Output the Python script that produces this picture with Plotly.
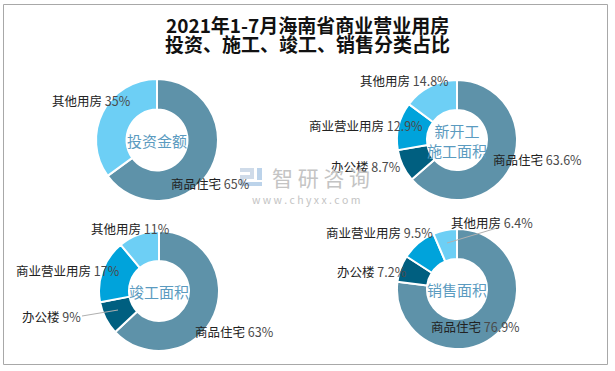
import plotly.graph_objects as go

W, H = 615, 371

# ---- data ----
title_line1 = "2021年1-7月海南省商业营业用房"
title_line2 = "投资、施工、竣工、销售分类占比"

invest_labels = ["商品住宅", "其他用房"]
invest_values = [65, 35]

new_labels = ["商品住宅", "办公楼", "商业营业用房", "其他用房"]
new_values = [63.6, 8.7, 12.9, 14.8]

done_labels = ["商品住宅", "办公楼", "商业营业用房", "其他用房"]
done_values = [63, 9, 17, 11]

sales_labels = ["商品住宅", "办公楼", "商业营业用房", "其他用房"]
sales_values = [76.9, 7.2, 9.5, 6.4]

center_titles = ["投资金额", "新开工<br>施工面积", "竣工面积", "销售面积"]

# ---- styles ----
COLORS = {"商品住宅": "#5e92a9", "办公楼": "#005f80", "商业营业用房": "#00a3db", "其他用房": "#6dcff5"}
FONT = "Noto Sans CJK SC, Noto Sans, sans-serif"


def px(x):
    return x / W


def py(y):
    return 1 - y / H


def dom(cx, cy, r):
    return dict(x=[px(cx - r), px(cx + r)], y=[py(cy + r), py(cy - r)])


charts = [
    (invest_labels, invest_values, "{:.0f}%", (157, 140, 61)),
    (new_labels, new_values, "{:.1f}%", (457, 140, 60)),
    (done_labels, done_values, "{:.0f}%", (159, 291, 60)),
    (sales_labels, sales_values, "{:.1f}%", (457, 289, 60)),
]

# label positions (pixel centres), per chart in label order
label_pos = [
    [(210, 183), (91, 101)],
    [(537, 159), (366, 166), (366, 125), (404, 80)],
    [(234, 331), (51, 316), (68, 270), (130, 228)],
    [(475, 326), (372, 271), (379, 233), (492, 222)],
]

fig = go.Figure()
annotations = []

for (labels, values, fmt, (cx, cy, r)), positions, ctitle in zip(charts, label_pos, center_titles):
    fig.add_trace(go.Pie(
        labels=labels, values=values, sort=False, direction="clockwise", rotation=0,
        hole=0.5, domain=dom(cx, cy, r), textinfo="none", hoverinfo="label+percent",
        marker=dict(colors=[COLORS[l] for l in labels], line=dict(color="white", width=2)),
        showlegend=False,
    ))
    for lab, val, (lx, ly) in zip(labels, values, positions):
        annotations.append(dict(
            x=px(lx), y=py(ly), xref="paper", yref="paper", showarrow=False,
            xanchor="center", yanchor="middle",
            text=f"{lab} <span style='color:#4a4a4a'>{fmt.format(val)}</span>",
            font=dict(family=FONT, size=12.5, color="#222222"),
        ))
    annotations.append(dict(
        x=px(cx), y=py(cy), xref="paper", yref="paper", showarrow=False,
        xanchor="center", yanchor="middle", text=ctitle,
        font=dict(family=FONT, size=15, color="#5b9bc0"),
    ))

# title (two lines, tightly spaced as in the reference)
annotations.append(dict(x=0.5, y=py(25), xref="paper", yref="paper", showarrow=False,
                        xanchor="center", yanchor="middle", text=title_line1,
                        font=dict(family=FONT, size=19, color="#111111", weight="bold")))
annotations.append(dict(x=0.5, y=py(44), xref="paper", yref="paper", showarrow=False,
                        xanchor="center", yanchor="middle", text=title_line2,
                        font=dict(family=FONT, size=19, color="#111111", weight="bold")))

# watermark
annotations.append(dict(x=px(321), y=py(177), xref="paper", yref="paper", showarrow=False,
                        xanchor="center", yanchor="middle", text="智 研 咨 询",
                        font=dict(family=FONT, size=21, color="#c4c4c4")))
annotations.append(dict(x=px(306), y=py(199), xref="paper", yref="paper", showarrow=False,
                        xanchor="center", yanchor="middle", text="w w w . c h y x x . c o m",
                        font=dict(family=FONT, size=10.5, color="#c4c4c4")))

shapes = [
    dict(type="rect", xref="paper", yref="paper", x0=px(3.5), x1=px(607.5), y0=py(364.5), y1=py(4.5),
         line=dict(color="#a8a8a8", width=1), fillcolor="rgba(0,0,0,0)"),
    # leader lines
    dict(type="line", xref="paper", yref="paper", x0=px(82), y0=py(316), x1=px(118), y1=py(310),
         line=dict(color="#b0b0b0", width=1)),
    dict(type="line", xref="paper", yref="paper", x0=px(447), y0=py(243), x1=px(497), y1=py(228),
         line=dict(color="#b0b0b0", width=1)),
    # watermark logo
    dict(type="rect", xref="paper", yref="paper", x0=px(240), x1=px(254), y0=py(172), y1=py(168),
         line=dict(width=0), fillcolor="#cfdbe9"),
    dict(type="rect", xref="paper", yref="paper", x0=px(250), x1=px(254), y0=py(179), y1=py(168),
         line=dict(width=0), fillcolor="#cfdbe9"),
    dict(type="rect", xref="paper", yref="paper", x0=px(240), x1=px(254), y0=py(179), y1=py(175),
         line=dict(width=0), fillcolor="#cfdbe9"),
    dict(type="rect", xref="paper", yref="paper", x0=px(240), x1=px(244), y0=py(186), y1=py(175),
         line=dict(width=0), fillcolor="#cfdbe9"),
    dict(type="rect", xref="paper", yref="paper", x0=px(240), x1=px(262), y0=py(186), y1=py(182),
         line=dict(width=0), fillcolor="#bcd3ea"),
    dict(type="rect", xref="paper", yref="paper", x0=px(257), x1=px(262), y0=py(180), y1=py(168),
         line=dict(width=0), fillcolor="#bcd3ea"),
]

fig.update_layout(
    width=W, height=H, margin=dict(l=0, r=0, t=0, b=0),
    paper_bgcolor="white", plot_bgcolor="white",
    annotations=annotations, shapes=shapes,
    font=dict(family=FONT),
)

fig.write_html("out.html", config={"displayModeBar": False},
               post_script="document.body.style.margin='0';document.body.style.padding='0';")
